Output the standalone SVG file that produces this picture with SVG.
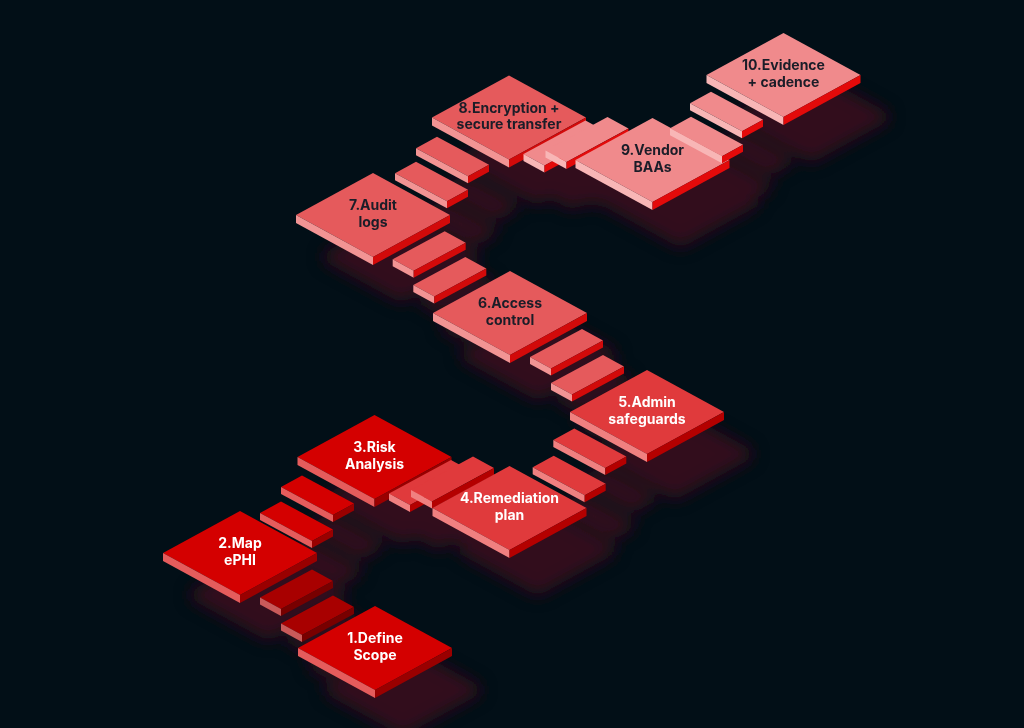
<svg xmlns="http://www.w3.org/2000/svg" width="1024" height="728" viewBox="0 0 1024 728">
<defs>
<style>
.bg{fill:#020f17}
.sh{fill:#33101a}
text{font-family:Inter,"Noto Sans","Liberation Sans",sans-serif;font-weight:700;font-size:14px;text-anchor:middle}
.w{fill:#ffffff}
.d{fill:#1b1d28}
.c0 .t{fill:#a80000}.c0 .l{fill:#c95a5a}.c0 .r{fill:#780000}
.c1 .t{fill:#d40000}.c1 .l{fill:#e55c5c}.c1 .r{fill:#990000}
.c2 .t{fill:#e03a3c}.c2 .l{fill:#f08080}.c2 .r{fill:#b40000}
.c3 .t{fill:#e55a5c}.c3 .l{fill:#f29494}.c3 .r{fill:#d20a0a}
.c4 .t{fill:#f08a8c}.c4 .l{fill:#f8b6b6}.c4 .r{fill:#e30a0a}
</style>
<filter id="blur" x="-30%" y="-30%" width="160%" height="160%"><feGaussianBlur stdDeviation="8"/></filter>
<polygon id="nT" points="-77,0 0,-42 77,0 0,42"/>
<polygon id="nL" points="-77,0 0,42 0,50 -77,8"/>
<polygon id="nR" points="0,42 77,0 77,8 0,50"/>
<polygon id="nS" points="-77,0 0,-42 77,0 77,8 0,50 -77,8"/>
<polygon id="uT" points="0,0 52,-28 73,-16.5 21,11.5"/>
<polygon id="uL" points="0,0 21,11.5 21,18.5 0,7"/>
<polygon id="uR" points="21,11.5 73,-16.5 73,-9.5 21,18.5"/>
<polygon id="uS" points="0,0 52,-28 73,-16.5 73,-9.5 21,18.5 0,7"/>
<polygon id="wT" points="0,0 62,-33.5 83,-22 21,11.5"/>
<polygon id="wR" points="21,11.5 83,-22 83,-15 21,18.5"/>
<polygon id="wS" points="0,0 62,-33.5 83,-22 83,-15 21,18.5 0,7"/>
<polygon id="vT" points="0,0 21,-11.5 73,16.5 52,28"/>
<polygon id="vL" points="0,0 52,28 52,35 0,7"/>
<polygon id="vR" points="52,28 73,16.5 73,23.5 52,35"/>
<polygon id="vS" points="0,0 21,-11.5 73,16.5 73,23.5 52,35 0,7"/>
</defs>
<rect class="bg" x="0" y="0" width="1024" height="728"/>

<g id="shadows" class="sh" filter="url(#blur)" transform="translate(28,38)">
<use href="#nS" x="375" y="648"/>
<use href="#nS" x="240" y="553"/>
<use href="#nS" x="374.5" y="457"/>
<use href="#nS" x="509.5" y="508"/>
<use href="#wS" x="389" y="493.5"/>
<use href="#wS" x="411" y="490"/>
<use href="#nS" x="647" y="412"/>
<use href="#nS" x="510" y="313"/>
<use href="#nS" x="373" y="215"/>
<use href="#nS" x="509" y="117.5"/>
<use href="#nS" x="652.5" y="160"/>
<use href="#wS" x="523.5" y="154"/>
<use href="#wS" x="545.5" y="150.5"/>
<use href="#nS" x="783.5" y="75"/>
<use href="#uS" x="260" y="597.5"/>
<use href="#uS" x="281" y="623.5"/>
<use href="#vS" x="281" y="487"/>
<use href="#vS" x="260" y="513"/>
<use href="#vS" x="553.3" y="440"/>
<use href="#vS" x="532.7" y="467.3"/>
<use href="#uS" x="530" y="357"/>
<use href="#uS" x="551" y="383"/>
<use href="#uS" x="392.7" y="259.3"/>
<use href="#uS" x="413.3" y="285"/>
<use href="#vS" x="416" y="148.3"/>
<use href="#vS" x="395" y="173.3"/>
<use href="#vS" x="690" y="103.3"/>
<use href="#vS" x="670" y="128.3"/>
</g>

<g id="node1" class="c1" transform="translate(375,648)">
<use href="#nT" class="t"/><use href="#nL" class="l"/><use href="#nR" class="r"/>
<text class="w" y="-5">1.Define</text><text class="w" y="11.7">Scope</text>
</g>
<g id="node2" class="c1" transform="translate(240,553)">
<use href="#nT" class="t"/><use href="#nL" class="l"/><use href="#nR" class="r"/>
<text class="w" y="-5">2.Map</text><text class="w" y="11.7">ePHI</text>
</g>
<g id="node3" class="c1" transform="translate(374.5,457)">
<use href="#nT" class="t"/><use href="#nL" class="l"/><use href="#nR" class="r"/>
<text class="w" y="-5">3.Risk</text><text class="w" y="11.7">Analysis</text>
</g>
<g id="node4" class="c2" transform="translate(509.5,508)">
<g transform="translate(-120.5,-14.5)"><use href="#wT" class="t"/><use href="#uL" class="l"/><use href="#wR" class="r"/></g>
<g transform="translate(-98.5,-18)"><use href="#wT" class="t"/><use href="#uL" class="l"/><use href="#wR" class="r"/></g>
<use href="#nT" class="t"/><use href="#nL" class="l"/><use href="#nR" class="r"/>
<text class="w" y="-5">4.Remediation</text><text class="w" y="11.7">plan</text>
</g>
<g id="node5" class="c2" transform="translate(647,412)">
<use href="#nT" class="t"/><use href="#nL" class="l"/><use href="#nR" class="r"/>
<text class="w" y="-5">5.Admin</text><text class="w" y="11.7">safeguards</text>
</g>
<g id="node6" class="c3" transform="translate(510,313)">
<use href="#nT" class="t"/><use href="#nL" class="l"/><use href="#nR" class="r"/>
<text class="d" y="-5">6.Access</text><text class="d" y="11.7">control</text>
</g>
<g id="node7" class="c3" transform="translate(373,215)">
<use href="#nT" class="t"/><use href="#nL" class="l"/><use href="#nR" class="r"/>
<text class="d" y="-5">7.Audit</text><text class="d" y="11.7">logs</text>
</g>
<g id="node8" class="c3" transform="translate(509,117.5)">
<use href="#nT" class="t"/><use href="#nL" class="l"/><use href="#nR" class="r"/>
<text class="d" y="-5">8.Encryption +</text><text class="d" y="11.7">secure transfer</text>
</g>
<g id="node9" class="c4" transform="translate(652.5,160)">
<g transform="translate(-129,-6)"><use href="#wT" class="t"/><use href="#uL" class="l"/><use href="#wR" class="r"/></g>
<g transform="translate(-107,-9.5)"><use href="#wT" class="t"/><use href="#uL" class="l"/><use href="#wR" class="r"/></g>
<use href="#nT" class="t"/><use href="#nL" class="l"/><use href="#nR" class="r"/>
<text class="d" y="-5">9.Vendor</text><text class="d" y="11.7">BAAs</text>
</g>
<g id="node10" class="c4" transform="translate(783.5,75)">
<use href="#nT" class="t"/><use href="#nL" class="l"/><use href="#nR" class="r"/>
<text class="d" y="-5">10.Evidence</text><text class="d" y="11.7">+ cadence</text>
</g>

<g id="connectors">
<g class="c0" transform="translate(260,597.5)"><use href="#uT" class="t"/><use href="#uL" class="l"/><use href="#uR" class="r"/></g>
<g class="c0" transform="translate(281,623.5)"><use href="#uT" class="t"/><use href="#uL" class="l"/><use href="#uR" class="r"/></g>
<g class="c1" transform="translate(281,487)"><use href="#vT" class="t"/><use href="#vL" class="l"/><use href="#vR" class="r"/></g>
<g class="c1" transform="translate(260,513)"><use href="#vT" class="t"/><use href="#vL" class="l"/><use href="#vR" class="r"/></g>
<g class="c2" transform="translate(553.3,440)"><use href="#vT" class="t"/><use href="#vL" class="l"/><use href="#vR" class="r"/></g>
<g class="c2" transform="translate(532.7,467.3)"><use href="#vT" class="t"/><use href="#vL" class="l"/><use href="#vR" class="r"/></g>
<g class="c3" transform="translate(530,357)"><use href="#uT" class="t"/><use href="#uL" class="l"/><use href="#uR" class="r"/></g>
<g class="c3" transform="translate(551,383)"><use href="#uT" class="t"/><use href="#uL" class="l"/><use href="#uR" class="r"/></g>
<g class="c3" transform="translate(392.7,259.3)"><use href="#uT" class="t"/><use href="#uL" class="l"/><use href="#uR" class="r"/></g>
<g class="c3" transform="translate(413.3,285)"><use href="#uT" class="t"/><use href="#uL" class="l"/><use href="#uR" class="r"/></g>
<g class="c3" transform="translate(416,148.3)"><use href="#vT" class="t"/><use href="#vL" class="l"/><use href="#vR" class="r"/></g>
<g class="c3" transform="translate(395,173.3)"><use href="#vT" class="t"/><use href="#vL" class="l"/><use href="#vR" class="r"/></g>
<g class="c4" transform="translate(690,103.3)"><use href="#vT" class="t"/><use href="#vL" class="l"/><use href="#vR" class="r"/></g>
<g class="c4" transform="translate(670,128.3)"><use href="#vT" class="t"/><use href="#vL" class="l"/><use href="#vR" class="r"/></g>
</g>
</svg>
